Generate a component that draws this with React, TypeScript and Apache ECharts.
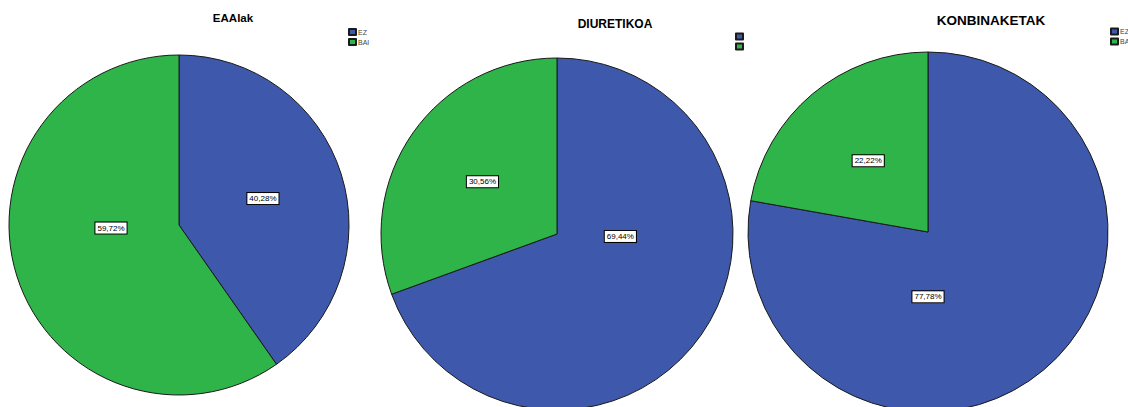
import React, { useEffect, useRef } from "react";
import * as echarts from "echarts";

const CATEGORIES = ["EZ", "BAI"];
const TITLES = ["EAAlak", "DIURETIKOA", "KONBINAKETAK"];
const EAALAK_VALUES = [40.28, 59.72];
const DIURETIKOA_VALUES = [69.44, 30.56];
const KONBINAKETAK_VALUES = [77.78, 22.22];
const LEGEND_TEXT_SHOWN = [true, false, true];

const COLORS = ["#3e58ab", "#2fb44a"];
const FONT = 'Arial, "Liberation Sans", sans-serif';

// layout (positions / sizes) for each of the three panels
const PANELS = [
  { center: [179, 225], radius: 170, titleX: 233, titleY: 12, titleSize: 11.5, legendX: 348, legendY: 28, bigLabel: [-0.4, 0.018] },
  { center: [557, 234], radius: 176, titleX: 615, titleY: 18, titleSize: 12, legendX: 735, legendY: 32.5, bigLabel: [0.36, 0.014] },
  { center: [928, 232], radius: 180, titleX: 991, titleY: 13, titleSize: 13.5, legendX: 1110, legendY: 27.5, bigLabel: [0, 0.36] },
];

const fmt = (v: number) => v.toFixed(2).replace(".", ",") + "%";

export default function App() {
  const ref = useRef<HTMLDivElement>(null);
  useEffect(() => {
    document.body.style.margin = "0";
    const chart = echarts.init(ref.current!, null, { renderer: "svg" });
    const allValues = [EAALAK_VALUES, DIURETIKOA_VALUES, KONBINAKETAK_VALUES];

    const series = allValues.map((vals, si) => {
      const p = PANELS[si];
      const bigIdx = vals[0] > 50 ? 0 : 1;
      return {
        type: "pie",
        name: TITLES[si],
        center: p.center,
        radius: p.radius,
        startAngle: 90,
        clockwise: true,
        silent: true,
        avoidLabelOverlap: false,
        data: CATEGORIES.map((c, i) => ({
          name: c,
          value: vals[i],
          itemStyle: { color: COLORS[i] },
        })),
        itemStyle: { borderColor: "#1a1a1a", borderWidth: 1 },
        label: {
          show: true,
          position: "inside",
          formatter: (pr: any) => fmt(pr.value),
          fontFamily: FONT,
          fontSize: 8,
          lineHeight: 9,
          color: "#000",
          backgroundColor: "#fff",
          borderColor: "#000",
          borderWidth: 1,
          padding: [1, 2, 1, 2],
        },
        labelLine: { show: false },
        labelLayout: (params: any) => {
          if (params.dataIndex !== bigIdx) return {};
          return {
            x: p.center[0] + p.bigLabel[0] * p.radius,
            y: p.center[1] + p.bigLabel[1] * p.radius,
          };
        },
      };
    });

    const titles = PANELS.map((p, i) => ({
      text: TITLES[i],
      left: p.titleX,
      top: p.titleY,
      textAlign: "center",
      padding: 0,
      textStyle: { fontFamily: FONT, fontWeight: "bold", fontSize: p.titleSize, color: "#000" },
    }));

    const legends = PANELS.map((p, i) => ({
      data: CATEGORIES,
      orient: "vertical",
      left: p.legendX,
      top: p.legendY,
      padding: 0,
      itemWidth: 7,
      itemHeight: 6,
      itemGap: 2,
      icon: "rect",
      selectedMode: false,
      formatter: LEGEND_TEXT_SHOWN[i] ? (n: string) => n : () => "",
      textStyle: { fontFamily: FONT, fontSize: 7, lineHeight: 8, color: "#444", padding: [0, 0, 0, -3] },
    }));

    chart.setOption({
      animation: false,
      backgroundColor: "#fff",
      title: titles,
      legend: legends,
      series,
    });
    return () => chart.dispose();
  }, []);
  return (
    <div
      ref={ref}
      style={{ position: "absolute", left: 0, top: 0, width: 1128, height: 407 }}
    />
  );
}
